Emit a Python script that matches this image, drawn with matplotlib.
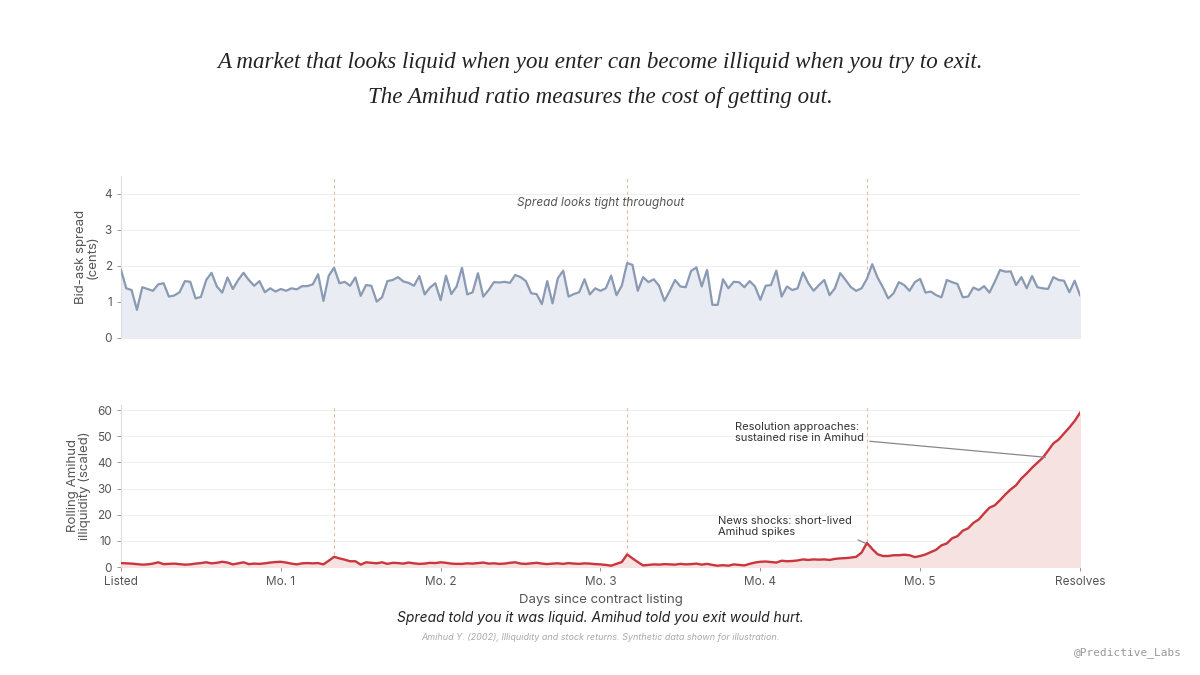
import matplotlib
matplotlib.use("Agg")
import matplotlib.pyplot as plt
import numpy as np

plt.rcParams['font.family'] = ['Inter', 'DejaVu Sans']

# daily bid-ask spread (cents), day 0 .. day 180
spread = [
    1.89, 1.38, 1.33, 0.78, 1.41, 1.36, 1.31, 1.49, 1.52, 1.15,
    1.18, 1.27, 1.58, 1.56, 1.10, 1.14, 1.61, 1.81, 1.43, 1.26,
    1.68, 1.36, 1.61, 1.81, 1.61, 1.45, 1.58, 1.27, 1.38, 1.29,
    1.36, 1.31, 1.38, 1.35, 1.44, 1.44, 1.49, 1.77, 1.03, 1.73,
    1.95, 1.52, 1.56, 1.45, 1.68, 1.17, 1.47, 1.45, 1.01, 1.13,
    1.58, 1.61, 1.69, 1.57, 1.53, 1.45, 1.72, 1.21, 1.40, 1.52,
    1.05, 1.73, 1.22, 1.43, 1.95, 1.21, 1.27, 1.80, 1.15, 1.33,
    1.55, 1.54, 1.56, 1.53, 1.75, 1.69, 1.58, 1.24, 1.22, 0.94,
    1.58, 0.96, 1.66, 1.87, 1.15, 1.22, 1.27, 1.63, 1.21, 1.38,
    1.31, 1.38, 1.73, 1.19, 1.45, 2.08, 2.03, 1.31, 1.69, 1.55,
    1.63, 1.45, 1.03, 1.31, 1.61, 1.43, 1.41, 1.86, 1.96, 1.43,
    1.89, 0.92, 0.92, 1.63, 1.38, 1.56, 1.55, 1.41, 1.58, 1.43,
    1.06, 1.45, 1.47, 1.87, 1.15, 1.43, 1.33, 1.38, 1.82, 1.52,
    1.31, 1.47, 1.61, 1.19, 1.38, 1.80, 1.61, 1.41, 1.31, 1.38,
    1.64, 2.05, 1.68, 1.41, 1.10, 1.24, 1.55, 1.47, 1.31, 1.55,
    1.64, 1.26, 1.29, 1.19, 1.13, 1.61, 1.55, 1.50, 1.13, 1.15,
    1.40, 1.33, 1.44, 1.26, 1.56, 1.89, 1.84, 1.85, 1.47, 1.69,
    1.38, 1.72, 1.41, 1.38, 1.36, 1.69, 1.61, 1.59, 1.27, 1.59,
    1.19,
]

# rolling Amihud illiquidity (scaled), day 0 .. day 180
amihud = [
    1.5, 1.4, 1.3, 1.1, 0.9, 1.0, 1.3, 1.8, 1.1, 1.2,
    1.3, 1.1, 0.9, 1.0, 1.3, 1.5, 1.8, 1.4, 1.6, 2.0,
    1.7, 1.0, 1.4, 1.8, 1.1, 1.3, 1.2, 1.4, 1.7, 1.9,
    2.0, 1.7, 1.3, 1.0, 1.4, 1.5, 1.4, 1.5, 1.0, 2.4,
    3.9, 3.3, 2.8, 2.2, 2.2, 0.9, 1.8, 1.6, 1.4, 1.8,
    1.2, 1.6, 1.5, 1.3, 1.7, 1.4, 1.2, 1.3, 1.6, 1.5,
    1.8, 1.6, 1.3, 1.2, 1.2, 1.4, 1.3, 1.5, 1.7, 1.3,
    1.4, 1.2, 1.3, 1.6, 1.8, 1.3, 1.2, 1.4, 1.6, 1.3,
    1.1, 1.3, 1.4, 1.2, 1.5, 1.3, 1.2, 1.4, 1.3, 1.1,
    1.0, 0.8, 0.5, 1.2, 1.9, 4.8, 3.3, 1.9, 0.6, 0.8,
    1.0, 0.9, 1.1, 1.0, 0.9, 1.2, 1.0, 1.1, 1.3, 0.9,
    1.2, 0.8, 0.5, 0.7, 0.5, 1.0, 0.8, 0.6, 1.2, 1.7,
    2.0, 2.1, 1.9, 1.7, 2.4, 2.2, 2.3, 2.5, 2.9, 2.7,
    2.9, 2.8, 2.9, 2.7, 3.1, 3.3, 3.4, 3.6, 3.9, 5.5,
    9.2, 6.9, 4.9, 4.2, 4.2, 4.5, 4.5, 4.7, 4.5, 3.8,
    4.2, 4.8, 5.7, 6.6, 8.3, 9.0, 11.0, 11.8, 13.9, 14.8,
    16.9, 18.2, 20.5, 22.7, 23.6, 25.6, 27.8, 29.7, 31.3, 33.9,
    35.8, 38.0, 39.9, 41.8, 44.5, 47.3, 48.8, 51.1, 53.4, 55.9,
    59.0,
]

days = np.arange(len(spread))
shock_days = [40, 95, 140]
tick_days = [0, 30, 60, 90, 120, 150, 180]
tick_labels = ['Listed', 'Mo. 1', 'Mo. 2', 'Mo. 3', 'Mo. 4', 'Mo. 5', 'Resolves']

grey_text = '#555555'
spread_col = '#8a9ab3'
spread_fill = '#e9edf3'
amihud_col = '#c9363c'
amihud_fill = '#f7e2e2'
shock_col = '#e8b89e'

fig = plt.figure(figsize=(12, 6.75), dpi=100)
ax1 = fig.add_axes([0.1008, 0.4993, 0.7992, 0.2400])
ax2 = fig.add_axes([0.1008, 0.1600, 0.7992, 0.2400])

def style_axis(ax):
    for s in ['top', 'right', 'bottom']:
        ax.spines[s].set_visible(False)
    ax.spines['left'].set_color('#dddddd')
    ax.spines['left'].set_linewidth(0.8)
    ax.tick_params(axis='both', colors='#888888', labelcolor=grey_text, labelsize=8.5,
                   length=3, width=0.6)
    ax.grid(axis='y', color='#efefef', linewidth=0.8)
    ax.set_axisbelow(True)
    ax.set_xlim(0, 180)
    for d in shock_days:
        ax.axvline(d, color=shock_col, linestyle=(0, (3, 3)), linewidth=0.75, zorder=1)

# top panel: spread
style_axis(ax1)
ax1.fill_between(days, spread, 0, color=spread_fill, zorder=2)
ax1.plot(days, spread, color=spread_col, linewidth=1.6, zorder=3)
ax1.set_ylim(0, 4.5)
ax1.set_yticks([0, 1, 2, 3, 4])
ax1.set_xticks([])
ax1.set_ylabel('Bid-ask spread\n(cents)', color=grey_text, fontsize=9.5, linespacing=1.0)
ax1.text(90, 3.75, 'Spread looks tight throughout', ha='center', va='center',
         fontsize=8.5, style='italic', color=grey_text)

# bottom panel: Amihud
style_axis(ax2)
ax2.fill_between(days, amihud, 0, color=amihud_fill, zorder=2)
ax2.plot(days, amihud, color=amihud_col, linewidth=1.7, zorder=3)
ax2.set_ylim(0, 62)
ax2.set_yticks(range(0, 61, 10))
ax2.set_xticks(tick_days)
ax2.set_xticklabels(tick_labels)
ax2.set_ylabel('Rolling Amihud\nilliquidity (scaled)', color=grey_text, fontsize=9.5,
               linespacing=1.0)
ax2.set_xlabel('Days since contract listing', color=grey_text, fontsize=9.5, labelpad=4)

ax2.annotate('Resolution approaches:\nsustained rise in Amihud', xy=(173.5, 42.0),
             xytext=(139.5, 47.5), ha='right', va='bottom', multialignment='left',
             fontsize=8.0, color='#333333', linespacing=1.15,
             arrowprops=dict(arrowstyle='-', color='#888888', lw=0.9,
                             shrinkA=2, shrinkB=0, relpos=(1.0, 0.1)))
ax2.annotate('News shocks: short-lived\nAmihud spikes', xy=(139.8, 9.0),
             xytext=(112, 11.5), ha='left', va='bottom', fontsize=8.0, color='#333333',
             linespacing=1.15,
             arrowprops=dict(arrowstyle='-', color='#888888', lw=0.9,
                             shrinkA=3, shrinkB=0, relpos=(1.0, 0.0)))

# titles and footer
serif = ['Liberation Serif', 'DejaVu Serif']
fig.text(0.5, 0.908, 'A market that looks liquid when you enter can become illiquid when you try to exit.',
         ha='center', va='center', fontsize=16.6, style='italic', color='#222222', family=serif)
fig.text(0.5, 0.856, 'The Amihud ratio measures the cost of getting out.',
         ha='center', va='center', fontsize=16.6, style='italic', color='#222222', family=serif)
fig.text(0.5, 0.084, 'Spread told you it was liquid. Amihud told you exit would hurt.',
         ha='center', va='center', fontsize=10, style='italic', color='#222222')
fig.text(0.5, 0.056, 'Amihud Y. (2002), Illiquidity and stock returns. Synthetic data shown for illustration.',
         ha='center', va='center', fontsize=6.5, style='italic', color='#aaaaaa')
fig.text(0.985, 0.034, '@Predictive_Labs', ha='right', va='center', fontsize=8,
         color='#999999', family='DejaVu Sans Mono')

fig.savefig('out.png', dpi=100, facecolor='white')
